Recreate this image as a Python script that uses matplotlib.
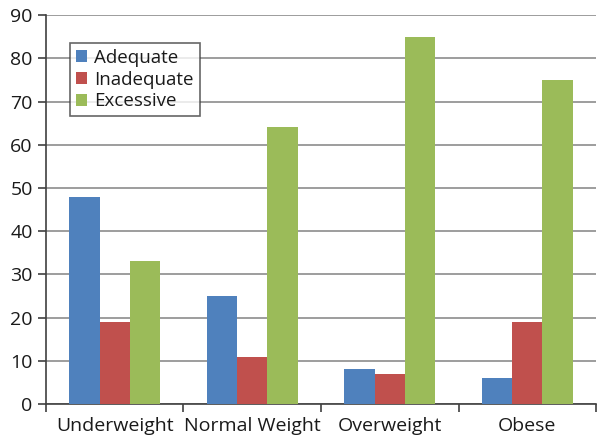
import numpy as np
import matplotlib.pyplot as plt

plt.rcParams['font.family'] = ['Open Sans', 'DejaVu Sans']

categories = ['Underweight', 'Normal Weight', 'Overweight', 'Obese']
adequate = [48, 25, 8, 6]
inadequate = [19, 11, 7, 19]
excessive = [33, 64, 85, 75]

series = [('Adequate', adequate, '#4F81BD'),
          ('Inadequate', inadequate, '#C0504D'),
          ('Excessive', excessive, '#9BBB59')]

fig = plt.figure(figsize=(6.04, 4.45), dpi=100)
ax = fig.add_axes([0.076, 0.092, 0.911, 0.874])

x = np.arange(len(categories))
width = 0.22
for i, (name, vals, color) in enumerate(series):
    ax.bar(x + (i - 1) * width, vals, width, color=color, label=name, zorder=3)

ax.set_xlim(-0.5, len(categories) - 0.5)
ax.set_ylim(0, 90)
ax.set_yticks(range(0, 91, 10))
ax.yaxis.grid(True, color='#8c8c8c', linewidth=1.2, zorder=0)
ax.set_axisbelow(True)

ax.set_xticks(x)
ax.set_xticklabels(categories, fontsize=14, color='#1a1a1a')
ax.tick_params(axis='x', length=0, pad=9)
ax.set_xticks(np.arange(-0.5, len(categories)), minor=True)
ax.tick_params(axis='x', which='minor', length=6, width=1.2, color='#404040')
ax.tick_params(axis='y', labelsize=14, labelcolor='#1a1a1a', length=6, width=1.2, color='#404040')

for s in ['top', 'right']:
    ax.spines[s].set_visible(False)
for s in ['left', 'bottom']:
    ax.spines[s].set_color('#404040')
    ax.spines[s].set_linewidth(1.2)

leg = ax.legend(loc='upper left', bbox_to_anchor=(0.044, 0.928), fontsize=13.5,
                frameon=True, fancybox=False, edgecolor='#404040', borderaxespad=0,
                handlelength=0.6, handleheight=0.6, handletextpad=0.4,
                labelspacing=0.2, borderpad=0.3)
leg.get_frame().set_linewidth(1.2)
for t in leg.get_texts():
    t.set_color('#1a1a1a')

fig.savefig('out.png', dpi=100)
